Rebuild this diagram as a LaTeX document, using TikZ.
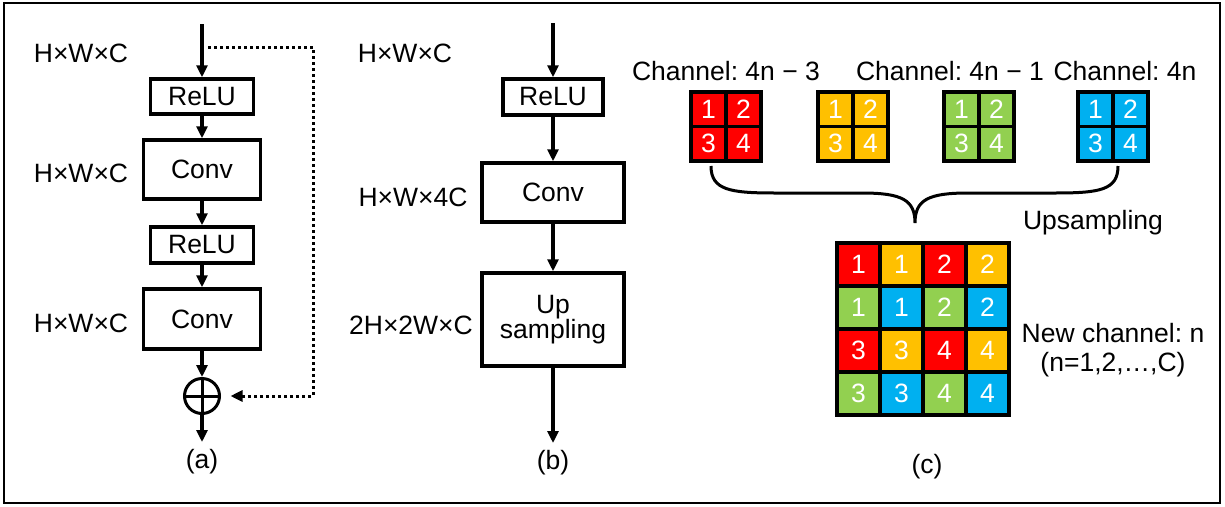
\documentclass[tikz,border=0pt]{standalone}
\usepackage{fontspec}
\setmainfont{Liberation Sans}
\usetikzlibrary{arrows.meta}
\definecolor{cred}{HTML}{FF0000}
\definecolor{cyel}{HTML}{FFC000}
\definecolor{cgrn}{HTML}{92D050}
\definecolor{cblu}{HTML}{00B0F0}
\frenchspacing
\begin{document}
\begin{tikzpicture}[x=1pt,y=-1pt,
  every node/.style={font=\fontsize{26.5}{31}\selectfont},
  blk/.style={draw, line width=3.5pt, inner sep=0pt, align=center},
  arr/.style={line width=3.5pt, -{Triangle[length=12pt,width=11pt]}},
  lbl/.style={inner sep=0pt},
  dotline/.style={line width=3pt, dash pattern=on 3pt off 3pt, -{Triangle[length=12pt,width=11pt]}},
  scell/.style={draw, line width=3.5pt, minimum width=35pt, minimum height=34.5pt, inner sep=0pt, text=white},
  bcell/.style={draw, line width=3.5pt, minimum size=43pt, inner sep=0pt, text=white}]
\useasboundingbox (0,0) rectangle (1225,506);
\draw[line width=2.5pt] (4,3) rectangle (1220,503);

% ---------- (a) ----------
\coordinate (a0) at (202,24);
\node[blk, minimum width=103pt, minimum height=35pt] (ar1) at (202,96.5) {ReLU};
\node[blk, minimum width=117pt, minimum height=59pt] (ac1) at (202,169.5) {Conv};
\node[blk, minimum width=103pt, minimum height=36pt] (ar2) at (202,245) {ReLU};
\node[blk, minimum width=117pt, minimum height=60pt] (ac2) at (202,319) {Conv};
\node[draw, circle, line width=3pt, minimum size=35pt, inner sep=0pt] (plus) at (202,396) {};
\draw[line width=3pt] (plus.north) -- (plus.south) (plus.west) -- (plus.east);
\coordinate (a9) at (202,442);
\draw[arr] (a0) -- (ar1);
\draw[arr] (ar1) -- (ac1);
\draw[arr] (ac1) -- (ar2);
\draw[arr] (ar2) -- (ac2);
\draw[arr] (ac2) -- (plus);
\draw[arr] (plus) -- (a9);
\coordinate (ds) at (208,47);
\coordinate (dc) at (313,396);
\draw[dotline, shorten >=9.5pt] (ds) -| (dc) -- (plus.east);
\node[lbl] (la1) at (81,53) {H×W×C};
\node[lbl] (la2) at (81,173) {H×W×C};
\node[lbl] (la3) at (81,323) {H×W×C};
\node[lbl] (capa) at (202,462) {(a)};

% ---------- (b) ----------
\coordinate (b0) at (553,23);
\node[blk, minimum width=100pt, minimum height=36pt] (br) at (553,97) {ReLU};
\node[blk, minimum width=142pt, minimum height=93pt, font=\fontsize{26.5}{25}\selectfont] (bu) at (553,319.5) {Up\\sampling};
\node[blk, minimum width=142pt, minimum height=59pt] (bc) at (553,192.5) {Conv};
\coordinate (b9) at (553,443);
\draw[arr] (b0) -- (br);
\draw[arr] (br) -- (bc);
\draw[arr] (bc) -- (bu);
\draw[arr] (bu) -- (b9);
\node[lbl] (lb1) at (405,53) {H×W×C};
\node[lbl] (lb2) at (413,197) {H×W×4C};
\node[lbl] (lb3) at (411,325) {2H×2W×C};
\node[lbl] (capb) at (553,463) {(b)};

% ---------- (c) ----------
\node[lbl] (ch1) at (726,71) {Channel: 4n − 3};
\node[lbl] (ch2) at (950,71) {Channel: 4n − 1};
\node[lbl] (ch3) at (1125,71) {Channel: 4n};
\foreach \i/\x/\col in {1/691/cred,2/818/cyel,3/944/cgrn,4/1078/cblu}{
  \node[scell, fill=\col] (s\i-1) at (\x+17.5,109.25) {1};
  \node[scell, fill=\col] (s\i-2) at (\x+52.5,109.25) {2};
  \node[scell, fill=\col] (s\i-3) at (\x+17.5,143.75) {3};
  \node[scell, fill=\col] (s\i-4) at (\x+52.5,143.75) {4};
}
\coordinate (bl) at (711,166);
\coordinate (brr) at (1118,166);
\coordinate (tip) at (915,223);
\draw[line width=3pt] (bl) .. controls (711,190) and (730,193) .. (775,193)
  -- (862,193) .. controls (902,193) and (915,200) .. (tip)
  .. controls (915,200) and (928,193) .. (968,193)
  -- (1055,193) .. controls (1100,193) and (1118,190) .. (brr);
\node[lbl] (ups) at (1093,223) {Upsampling};
\foreach \c/\r/\col/\n in {0/0/cred/1, 1/0/cyel/1, 2/0/cred/2, 3/0/cyel/2,
                          0/1/cgrn/1, 1/1/cblu/1, 2/1/cgrn/2, 3/1/cblu/2,
                          0/2/cred/3, 1/2/cyel/3, 2/2/cred/4, 3/2/cyel/4,
                          0/3/cgrn/3, 1/3/cblu/3, 2/3/cgrn/4, 3/3/cblu/4}{
  \node[bcell, fill=\col] (m\r\c) at (858.5+43*\c,264.5+43*\r) {\n};
}
\node[lbl] (nc1) at (1113,333) {New channel: n};
\node[lbl] (nc2) at (1113,365) {(n=1,2,…,C)};
\node[lbl] (capc) at (927,467) {(c)};
\end{tikzpicture}
\end{document}
